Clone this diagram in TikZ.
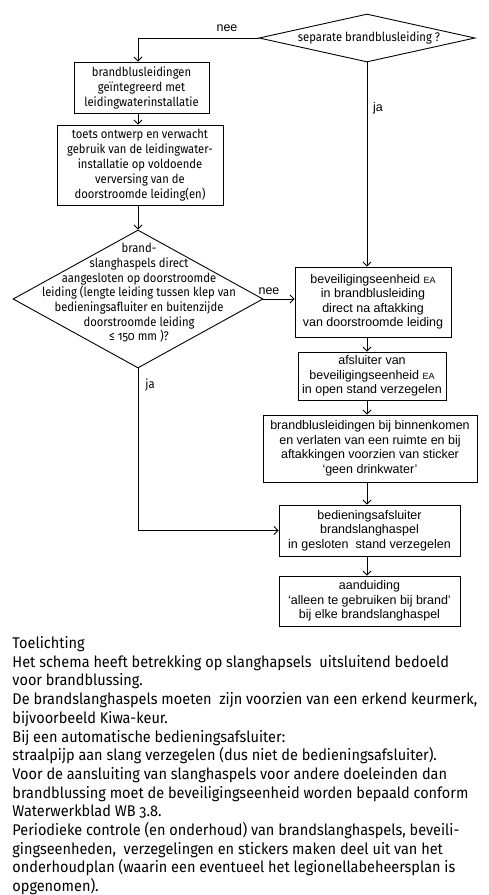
\documentclass[tikz,border=0pt]{standalone}
\usepackage{fontspec}
\setmainfont{Fira Sans}[Numbers=OldStyle,FakeStretch=0.9]
\newfontfamily\bodyfont{Fira Sans}[Numbers=OldStyle,FakeStretch=0.935]
\newfontfamily\arialfont{Liberation Sans}
\usetikzlibrary{shapes.geometric,arrows.meta}
\begin{document}
\begin{tikzpicture}[x=1pt,y=-1pt,
  line width=0.9pt,
  >={Straight Barb[length=4pt,width=8pt]},
  hbox/.style={draw,rectangle,inner sep=0pt,align=center,font=\fontsize{12.5}{15}\selectfont},
  abox/.style={draw,rectangle,inner sep=0pt,align=center,font=\arialfont\fontsize{12.5}{14.5}\selectfont},
  dia/.style={draw,diamond,inner sep=0pt},
  htext/.style={inner sep=0pt,align=center,font=\fontsize{12.5}{14.7}\selectfont},
  alabel/.style={inner sep=0pt,font=\arialfont\fontsize{12.5}{14}\selectfont},
  hlabel/.style={inner sep=0pt,font=\fontsize{12.5}{14}\selectfont}
]
\useasboundingbox (0,0) rectangle (488,895);
\newcommand{\smallea}{{\fontsize{9}{10}\selectfont EA}}

% top diamond
\node[dia,minimum width=216,minimum height=48] (d1) at (367,38) {};
\node[htext] (d1t) at (369,38) {separate brandblusleiding ?};

% left boxes
\node[hbox,minimum width=135,minimum height=51] (b1) at (141.5,87.5)
  {brandblusleidingen\\geïntegreerd met\\leidingwaterinstallatie};
\node[hbox,minimum width=166,minimum height=80] (b2) at (140,165)
  {toets ontwerp en verwacht\\gebruik van de leidingwater-\\installatie op voldoende\\verversing van de\\doorstroomde leiding(en)};

% second diamond
\node[dia,minimum width=250,minimum height=138] (d2) at (138,299) {};
\node[htext] (d2t) at (139,293)
  {brand-\\slanghaspels direct\\aangesloten op doorstroomde\\leiding (lengte leiding tussen klep van\\bedieningsafluiter en buitenzijde\\doorstroomde leiding\\≤ 150 mm )?};

% right boxes
\node[abox,minimum width=156,minimum height=70] (ea) at (373,302)
  {beveiligingseenheid \smallea\\in brandblusleiding\\direct na aftakking\\van doorstroomde leiding};
\node[abox,minimum width=148,minimum height=48] (afs) at (372,376)
  {afsluiter van\\beveiligingseenheid \smallea\\in open stand verzegelen};
\node[abox,minimum width=214,minimum height=67] (stk) at (370,448.5)
  {brandblusleidingen bij binnenkomen\\en verlaten van een ruimte en bij\\aftakkingen voorzien van sticker\\‘geen drinkwater’};
\node[abox,minimum width=181,minimum height=51] (bed) at (369.5,530.5)
  {bedieningsafsluiter\\brandslanghaspel\\in gesloten\ \ stand verzegelen};
\node[abox,minimum width=181,minimum height=50] (aan) at (369.5,601)
  {aanduiding\\‘alleen te gebruiken bij brand’\\bij elke brandslanghaspel};

% connectors
\draw[->] (d1.west) -| (b1.north -| d2.north);
\draw[->] (b1.south -| d2.north) -- (b2.north -| d2.north);
\draw[->] (b2.south -| d2.north) -- (d2.north);
\draw[->] (d1.south) -- (d1.south |- ea.north);
\draw[->] (d2.east) -- (d2.east -| ea.west);
\draw[->] (ea.south -| d1.south) -- (afs.north -| d1.south);
\draw[->] (afs.south -| d1.south) -- (stk.north -| d1.south);
\draw[->] (stk.south -| d1.south) -- (bed.north -| d1.south);
\draw[->] (bed.south -| d1.south) -- (aan.north -| d1.south);
\draw[->] (d2.south) |- (bed.west);

% labels
\node[alabel] (lnee1) at (227,28) {nee};
\node[alabel] (lja1) at (378,108) {ja};
\node[alabel] (lnee2) at (269,291) {nee};
\node[hlabel] (lja2) at (150,385) {ja};

% explanation
\node[anchor=north west,inner sep=0pt,align=left,font=\bodyfont\fontsize{15.5}{18.7}\selectfont] (expl) at (12,636)
{Toelichting\\
Het schema heeft betrekking op slanghapsels\ \ uitsluitend bedoeld\\
voor brandblussing.\\
De brandslanghaspels moeten\ \ zijn voorzien van een erkend keurmerk,\\
bijvoorbeeld Kiwa-keur.\\
Bij een automatische bedieningsafsluiter:\\
straalpijp aan slang verzegelen (dus niet de bedieningsafsluiter).\\
Voor de aansluiting van slanghaspels voor andere doeleinden dan\\
brandblussing moet de beveiligingseenheid worden bepaald conform\\
Waterwerkblad WB 3.8.\\
Periodieke controle (en onderhoud) van brandslanghaspels, beveili-\\
gingseenheden,\ \ verzegelingen en stickers maken deel uit van het\\
onderhoudplan (waarin een eventueel het legionellabeheersplan is\\
opgenomen).};
\end{tikzpicture}
\end{document}
